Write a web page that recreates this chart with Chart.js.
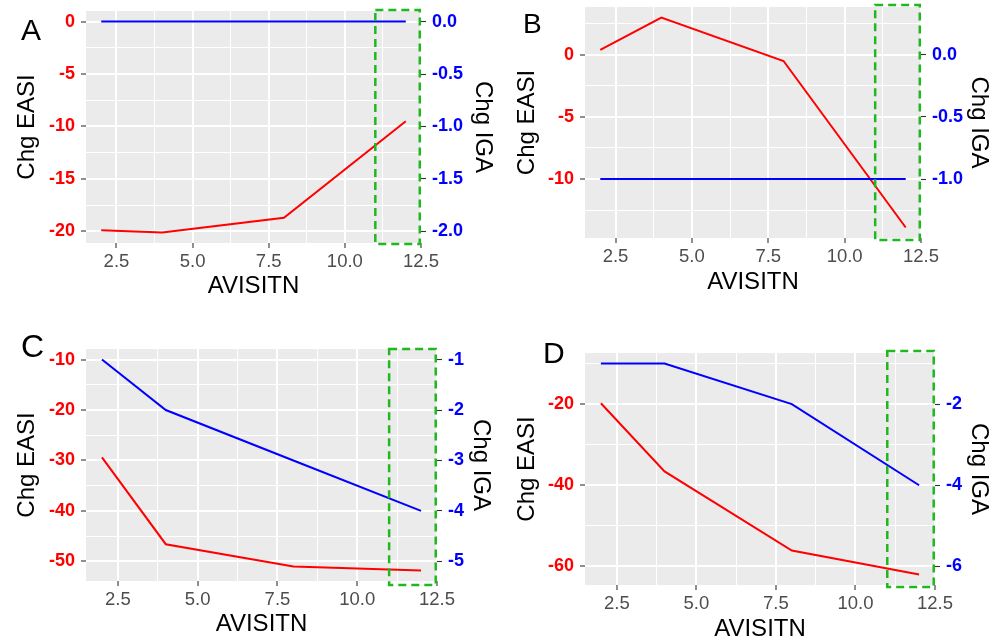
<!DOCTYPE html>
<html>
<head>
<meta charset="utf-8">
<script src="https://cdn.jsdelivr.net/npm/chart.js@4.4.1/dist/chart.umd.min.js"></script>
<style>
  html, body { margin: 0; padding: 0; background: #ffffff; width: 997px; height: 641px; overflow: hidden; }
  canvas { position: absolute; }
</style>
</head>
<body>
<canvas id="panelA" width="498" height="320" style="left:0px;top:0px"></canvas>
<canvas id="panelB" width="499" height="320" style="left:498px;top:0px"></canvas>
<canvas id="panelC" width="498" height="321" style="left:0px;top:320px"></canvas>
<canvas id="panelD" width="499" height="321" style="left:498px;top:320px"></canvas>
<script>
// Visit numbers (x) shared by all four subjects
const visits = [2, 4, 8, 12];

// Change from baseline in EASI (left axis) and IGA (right axis)
const easiA = [-19.9, -20.1, -18.7, -9.5];
const igaA  = [0, 0, 0, 0];
const easiB = [0.4, 3.0, -0.5, -13.9];
const igaB  = [-1, -1, -1, -1];
const easiC = [-29.4, -46.6, -51.0, -51.8];
const igaC  = [-1, -2, -3, -4];
const easiD = [-19.8, -36.6, -56.1, -62.0];
const igaD  = [-1, -1, -2, -4];

// Tick labels
const xTicks = [2.5, 5.0, 7.5, 10.0, 12.5];
const easiTicksA = [0, -5, -10, -15, -20];
const igaTicksA  = [0, -0.5, -1, -1.5, -2];
const easiTicksB = [0, -5, -10];
const igaTicksB  = [0, -0.5, -1];
const easiTicksC = [-10, -20, -30, -40, -50];
const igaTicksC  = [-1, -2, -3, -4, -5];
const easiTicksD = [-20, -40, -60];
const igaTicksD  = [-2, -4, -6];

// Secondary axis: one IGA unit spans ten EASI units
const igaFactor = 10;
// Highlighted visit window (x units)
const focusRange = [11, 12.46];

const FONT = "'Liberation Sans', Arial, Helvetica, sans-serif";
Chart.defaults.font.family = FONT;

const near = (a, b) => Math.abs(a - b) < 1e-9;
const isMajor = (majors, v) => majors.some(m => near(m, v));

// major breaks plus ggplot-style minor breaks halfway between them
function withMinor(majors, lo, hi) {
  const sorted = majors.slice().sort((a, b) => a - b);
  const step = sorted[1] - sorted[0];
  const vals = [];
  for (let v = sorted[0] - step; v <= sorted[sorted.length - 1] + step + 1e-9; v += step / 2) {
    if (v >= lo - 1e-9 && v <= hi + 1e-9) vals.push(Math.round(v * 1e6) / 1e6);
  }
  return vals;
}

function expand(values) {
  const lo = Math.min(...values), hi = Math.max(...values);
  const pad = (hi - lo) * 0.05;
  return [lo - pad, hi + pad];
}

const panelDecor = {
  id: 'panelDecor',
  beforeDraw(chart, args, opts) {
    const { ctx, chartArea: a } = chart;
    ctx.save();
    ctx.fillStyle = '#EBEBEB';
    ctx.fillRect(a.left, a.top, a.right - a.left, a.bottom - a.top);
    ctx.restore();
  },
  afterDraw(chart, args, opts) {
    const { ctx, chartArea: a, scales } = chart;
    ctx.save();
    // dashed highlight window
    const x1 = scales.x.getPixelForValue(focusRange[0]);
    const x2 = scales.x.getPixelForValue(focusRange[1]);
    ctx.strokeStyle = '#1FB81F';
    ctx.lineWidth = 2.5;
    ctx.setLineDash([8, 5]);
    ctx.strokeRect(x1, a.top + opts.boxTop, x2 - x1, a.bottom + opts.boxBottom - (a.top + opts.boxTop));
    ctx.setLineDash([]);
    // panel letter
    ctx.fillStyle = '#000000';
    ctx.font = opts.letterSize + 'px ' + FONT;
    ctx.textBaseline = 'alphabetic';
    ctx.textAlign = 'left';
    ctx.fillText(opts.letter, opts.letterX, opts.letterY);
    ctx.restore();
  }
};

function makePanel(id, p) {
  const canvas = document.getElementById(id);
  const W = canvas.width, H = canvas.height;
  const [xMin, xMax] = expand(visits);
  const [yMin, yMax] = expand(p.easi.concat(p.iga.map(v => v * igaFactor)));
  const xAll = withMinor(xTicks, xMin, xMax);
  const yAll = withMinor(p.easiTicks, yMin, yMax);

  const gridWidth = majors => c => (c.tick && isMajor(majors, c.tick.value)) ? 2 : 1;
  const tickCol = majors => c => (c.tick && isMajor(majors, c.tick.value)) ? '#333333' : 'rgba(0,0,0,0)';

  new Chart(canvas, {
    type: 'line',
    data: {
      datasets: [
        {
          label: 'Chg IGA',
          data: visits.map((x, i) => ({ x, y: p.iga[i] })),
          yAxisID: 'y2',
          borderColor: '#0000FF',
          borderWidth: 2,
          pointRadius: 0,
          tension: 0,
          fill: false
        },
        {
          label: 'Chg EASI',
          data: visits.map((x, i) => ({ x, y: p.easi[i] })),
          yAxisID: 'y',
          borderColor: '#FF0000',
          borderWidth: 2,
          pointRadius: 0,
          tension: 0,
          fill: false
        }
      ]
    },
    options: {
      responsive: false,
      animation: false,
      events: [],
      layout: { padding: { top: p.area.top, left: 0, right: 0, bottom: 0 } },
      plugins: {
        legend: { display: false },
        tooltip: { enabled: false },
        panelDecor: p.decor
      },
      scales: {
        x: {
          type: 'linear',
          min: xMin,
          max: xMax,
          afterBuildTicks: s => { s.ticks = xAll.map(v => ({ value: v })); },
          afterFit: s => { s.height = H - p.area.bottom; s.paddingLeft = 0; s.paddingRight = 0; },
          border: { display: false },
          grid: {
            color: '#FFFFFF',
            lineWidth: gridWidth(xTicks),
            tickColor: tickCol(xTicks),
            tickWidth: 1.1,
            tickLength: 5
          },
          ticks: {
            autoSkip: false,
            maxRotation: 0,
            minRotation: 0,
            padding: 3,
            color: '#4D4D4D',
            font: { size: 18.5 },
            callback: v => isMajor(xTicks, v) ? v.toFixed(1) : ''
          },
          title: {
            display: true,
            text: 'AVISITN',
            color: '#000000',
            font: { size: 24, lineHeight: 1 },
            padding: { top: 0, bottom: p.titlePad.bottom }
          }
        },
        y: {
          type: 'linear',
          position: 'left',
          min: yMin,
          max: yMax,
          afterBuildTicks: s => { s.ticks = yAll.map(v => ({ value: v })); },
          afterFit: s => { s.width = p.area.left; s.paddingTop = 0; s.paddingBottom = 0; },
          border: { display: false },
          grid: {
            color: '#FFFFFF',
            lineWidth: gridWidth(p.easiTicks),
            tickColor: tickCol(p.easiTicks),
            tickWidth: 1.1,
            tickLength: 5
          },
          ticks: {
            autoSkip: false,
            padding: 6,
            color: '#FF0000',
            font: { size: 18, weight: 'bold' },
            callback: v => isMajor(p.easiTicks, v) ? String(v) : ''
          },
          title: {
            display: true,
            text: 'Chg EASI',
            color: '#000000',
            font: { size: 24, lineHeight: 1 },
            padding: { top: p.titlePad.left, bottom: 0 }
          }
        },
        y2: {
          type: 'linear',
          position: 'right',
          min: yMin / igaFactor,
          max: yMax / igaFactor,
          afterBuildTicks: s => { s.ticks = p.igaTicks.map(v => ({ value: v })); },
          afterFit: s => { s.width = W - p.area.right; s.paddingTop = 0; s.paddingBottom = 0; },
          border: { display: false },
          grid: {
            drawOnChartArea: false,
            color: '#333333',
            tickColor: '#333333',
            tickWidth: 1.1,
            tickLength: 5
          },
          ticks: {
            autoSkip: false,
            padding: 6,
            color: '#0000FF',
            font: { size: 18, weight: 'bold' },
            callback: v => v.toFixed(p.igaDigits)
          },
          title: {
            display: true,
            text: 'Chg IGA',
            color: '#000000',
            font: { size: 24, lineHeight: 1 },
            padding: { top: p.titlePad.right, bottom: 0 }
          }
        }
      }
    },
    plugins: [panelDecor]
  });
}

makePanel('panelA', {
  easi: easiA, iga: igaA, easiTicks: easiTicksA, igaTicks: igaTicksA, igaDigits: 1,
  area: { left: 86, right: 421, top: 11, bottom: 243 },
  titlePad: { left: 15, right: 3, bottom: 22 },
  decor: { letter: 'A', letterX: 21, letterY: 40, letterSize: 30, boxTop: -1, boxBottom: 1 }
});
makePanel('panelB', {
  easi: easiB, iga: igaB, easiTicks: easiTicksB, igaTicks: igaTicksB, igaDigits: 1,
  area: { left: 87, right: 423, top: 7, bottom: 238 },
  titlePad: { left: 17, right: 6, bottom: 26 },
  decor: { letter: 'B', letterX: 25, letterY: 33, letterSize: 28, boxTop: -2, boxBottom: 2 }
});
makePanel('panelC', {
  easi: easiC, iga: igaC, easiTicks: easiTicksC, igaTicks: igaTicksC, igaDigits: 0,
  area: { left: 86, right: 437, top: 29, bottom: 261 },
  titlePad: { left: 15, right: 5, bottom: 5 },
  decor: { letter: 'C', letterX: 21, letterY: 37, letterSize: 32, boxTop: 0, boxBottom: 4 }
});
makePanel('panelD', {
  easi: easiD, iga: igaD, easiTicks: easiTicksD, igaTicks: igaTicksD, igaDigits: 0,
  area: { left: 87, right: 437, top: 33, bottom: 265 },
  titlePad: { left: 17, right: 6, bottom: 0 },
  decor: { letter: 'D', letterX: 45, letterY: 43, letterSize: 30, boxTop: -2, boxBottom: 2 }
});
</script>
</body>
</html>
